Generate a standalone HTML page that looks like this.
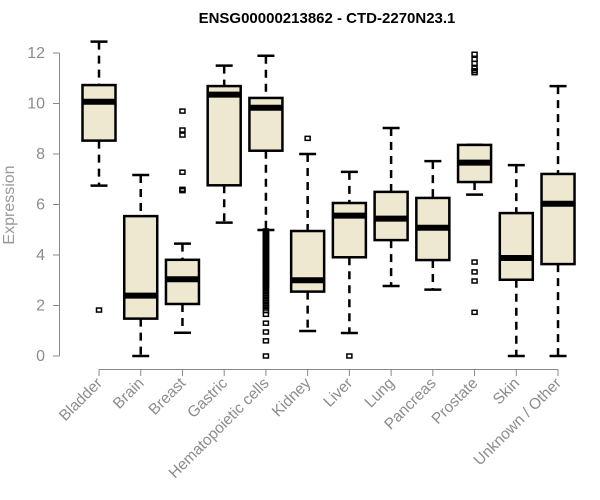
<!DOCTYPE html>
<html><head><meta charset="utf-8"><style>
body{margin:0;background:#fff;}
svg{display:block;font-family:"Liberation Sans",Arial,sans-serif;}
</style></head><body>
<svg id="chart" width="600" height="500">
<text x="327" y="23" text-anchor="middle" font-weight="bold" font-size="15" fill="#000">ENSG00000213862 - CTD-2270N23.1</text>
<text transform="translate(14,205) rotate(-90)" text-anchor="middle" font-size="16" fill="#999">Expression</text>
<g id="axes"></g><g id="marks"></g>
</svg>
<script>
const categories=["Bladder","Brain","Breast","Gastric","Hematopoietic cells","Kidney","Liver","Lung","Pancreas","Prostate","Skin","Unknown / Other"];
const whiskerLow=[6.75,0,0.92,5.28,4.99,0.99,0.91,2.77,2.63,6.39,0,0];
const q1=[8.53,1.48,2.06,6.76,8.13,2.55,3.91,4.59,3.8,6.89,3.02,3.64];
const medians=[10.07,2.39,3.04,10.35,9.83,3.0,5.56,5.44,5.08,7.66,3.88,6.03];
const q3=[10.73,5.54,3.81,10.69,10.22,4.95,6.06,6.5,6.26,8.36,5.66,7.21];
const whiskerHigh=[12.45,7.17,4.45,11.5,11.89,8.0,7.29,9.03,7.72,8.36,7.56,10.69];
const outliers=[[1.82],[],[9.7,8.95,8.75,7.28,6.6,6.55],[],
[4.95,4.9,4.85,4.8,4.75,4.7,4.65,4.6,4.55,4.5,4.45,4.4,4.35,4.3,4.25,4.2,4.15,4.1,4.05,4.0,3.95,3.9,3.85,3.8,3.75,3.7,3.65,3.6,3.55,3.5,3.45,3.4,3.35,3.3,3.25,3.2,3.15,3.1,3.05,3.0,2.95,2.9,2.85,2.8,2.75,2.7,2.6,2.5,2.4,2.3,2.2,2.1,2.0,1.9,1.8,1.65,1.3,0.95,0.6,0.0],
[8.62],[0],[],[],[11.95,11.75,11.59,11.4,11.3,11.22,3.72,3.33,2.97,1.73],[],[]];
const yTicks=[0,2,4,6,8,10,12];
const NS="http://www.w3.org/2000/svg";
const y=v=>356-v*25.25;
const x=i=>99+i*41.73;
const axes=document.getElementById('axes'),marks=document.getElementById('marks');
function mk(tag,attrs,parent){const e=document.createElementNS(NS,tag);for(const k in attrs)e.setAttribute(k,attrs[k]);parent.appendChild(e);return e;}
let a=mk('line',{x1:59.5,x2:59.5,y1:y(12),y2:y(0),stroke:'#888'},axes);


yTicks.forEach(t=>{
 const l=mk('line',{x1:53,x2:59.5,y1:y(t),y2:y(t),stroke:'#888'},axes);
 
 
 const tx=mk('text',{x:45,y:y(t)+5,'text-anchor':'end','font-size':16,fill:'#8c8c8c'},axes);
 tx.textContent=t;
 
 
});
let xa=mk('line',{x1:x(0),x2:x(11),y1:369.5,y2:369.5,stroke:'#888'},axes);


categories.forEach((c,i)=>{
 const l=mk('line',{x1:x(i),x2:x(i),y1:369.5,y2:376,stroke:'#888'},axes);
 
 
 const tx=mk('text',{x:x(i)+4,y:384,'text-anchor':'end','font-size':15.5,fill:'#8c8c8c',transform:`rotate(-45 ${x(i)+4} 384)`},axes);
 tx.textContent=c;
 
 
 const g=mk('g',{},marks);
 
 
 const cx=x(i),hw=16.5,cw=8.5;
 mk('line',{x1:cx,x2:cx,y1:y(whiskerHigh[i]),y2:y(q3[i]),stroke:'#000','stroke-width':2.5,'stroke-dasharray':'8,6'},g);
 mk('line',{x1:cx,x2:cx,y1:y(q1[i]),y2:y(whiskerLow[i]),stroke:'#000','stroke-width':2.5,'stroke-dasharray':'8,6'},g);
 mk('line',{x1:cx-cw,x2:cx+cw,y1:y(whiskerHigh[i]),y2:y(whiskerHigh[i]),stroke:'#000','stroke-width':2.5},g);
 mk('line',{x1:cx-cw,x2:cx+cw,y1:y(whiskerLow[i]),y2:y(whiskerLow[i]),stroke:'#000','stroke-width':2.5},g);
 mk('rect',{x:cx-hw,y:y(q3[i]),width:hw*2,height:y(q1[i])-y(q3[i]),fill:'#ede8cf',stroke:'#000','stroke-width':2.5},g);
 mk('line',{x1:cx-hw,x2:cx+hw,y1:y(medians[i]),y2:y(medians[i]),stroke:'#000','stroke-width':6},g);
 outliers[i].forEach(v=>{
  const p=mk('rect',{x:cx-2.5,y:y(v)-2,width:5,height:4,fill:'none',stroke:'#000','stroke-width':1.5},g);
  
  
 });
});
</script>
</body></html>
